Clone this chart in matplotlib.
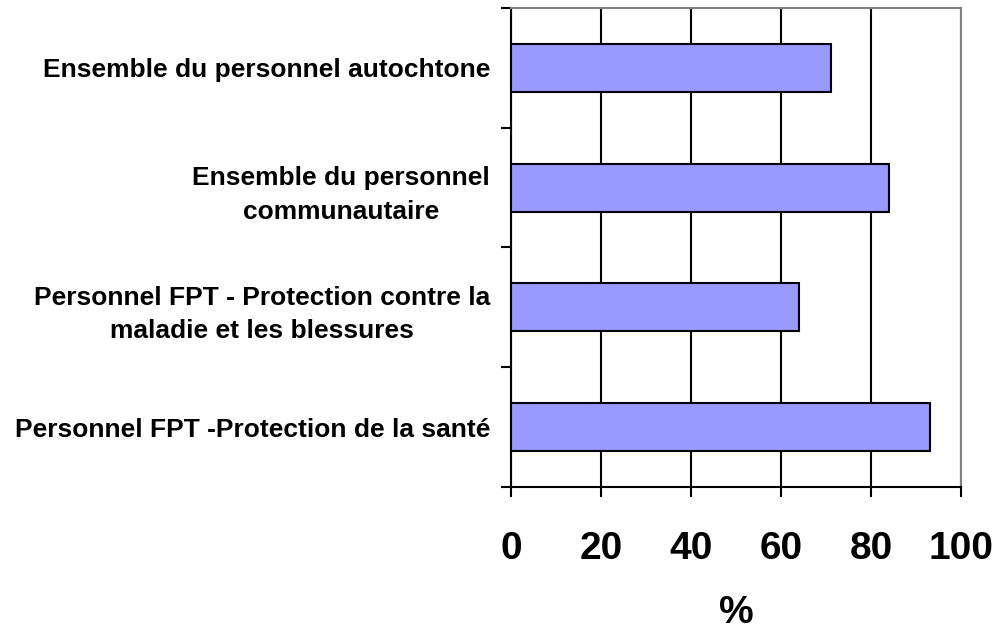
import matplotlib.pyplot as plt

categories = ["Personnel FPT -Protection de la santé",
              "Personnel FPT - Protection contre la\nmaladie et les blessures",
              "Ensemble du personnel\ncommunautaire",
              "Ensemble du personnel autochtone"]
values = [93, 64, 84, 71]
xticks = [0, 20, 40, 60, 80, 100]

plt.rcParams['font.family'] = ['Liberation Sans', 'DejaVu Sans']

fig = plt.figure(figsize=(9.98, 6.32), dpi=100)
ax = fig.add_axes([0.512, 0.2294, 0.451, 0.758])

y = list(range(len(categories)))
ax.barh(y, values, height=0.4, color="#9999FF", edgecolor="black", linewidth=1.5, zorder=3)

ax.set_xlim(0, 100)
ax.set_ylim(-0.5, len(categories) - 0.5)
ax.set_xticks(xticks)
ax.set_xticklabels([str(t) for t in xticks], fontsize=28, fontweight="bold")
ax.tick_params(axis="x", length=7, width=1.5, direction="out", pad=25)

# tick marks sit between categories, labels sit at centres
ax.set_yticks([i - 0.5 for i in range(len(categories) + 1)])
ax.set_yticklabels([])
ax.set_yticks(y, minor=True)
ax.set_yticklabels(categories, minor=True, fontsize=19, fontweight="bold",
                   multialignment="center", linespacing=1.5)
ax.tick_params(axis="y", which="minor", length=0, pad=15)
ax.tick_params(axis="y", which="major", length=7, width=1.5, direction="out")

ax.grid(axis="x", color="black", linewidth=1.5, zorder=0)
ax.set_axisbelow(True)

for s in ["left", "bottom"]:
    ax.spines[s].set_color("black")
    ax.spines[s].set_linewidth(1.5)
for s in ["top", "right"]:
    ax.spines[s].set_color("#808080")
    ax.spines[s].set_linewidth(1.5)

ax.set_xlabel("%", fontsize=28, fontweight="bold", labelpad=20)

fig.savefig("out.png", dpi=100)
